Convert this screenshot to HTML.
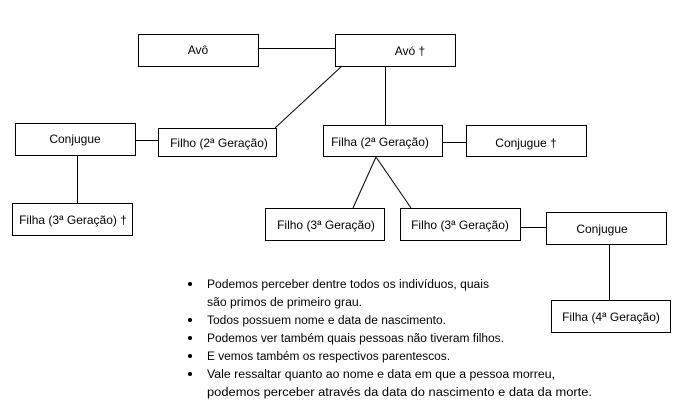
<!DOCTYPE html>
<html><head><meta charset="utf-8"><style>
html,body{margin:0;padding:0;background:#fff}
svg{display:block}
text{font-family:"Liberation Sans",sans-serif;font-size:12px;fill:#000}
.b{font-size:11.5px}
</style></head><body>
<svg width="678" height="418" viewBox="0 0 678 418">
<g fill="#fff" stroke="#000" stroke-width="1">
<rect x="138.5" y="34.5" width="120" height="32"/>
<rect x="335.5" y="34.5" width="120" height="32"/>
<rect x="15.5" y="123.5" width="120" height="32"/>
<rect x="158.5" y="128.5" width="118" height="28"/>
<rect x="323.5" y="125.5" width="119" height="31"/>
<rect x="466.5" y="125.5" width="120" height="31"/>
<rect x="12.5" y="203.5" width="120" height="32"/>
<rect x="265.5" y="208.5" width="119" height="32"/>
<rect x="400.5" y="208.5" width="120" height="32"/>
<rect x="546.5" y="212.5" width="120" height="32"/>
<rect x="551.5" y="300.5" width="119" height="32"/>
</g>
<g stroke="#000" stroke-width="1" fill="none">
<line x1="258" y1="48.5" x2="335" y2="48.5"/>
<line x1="342" y1="66" x2="275" y2="128"/>
<line x1="385.5" y1="66" x2="385.5" y2="125"/>
<line x1="135" y1="140.5" x2="158" y2="140.5"/>
<line x1="442" y1="142.5" x2="466" y2="142.5"/>
<line x1="77.5" y1="155" x2="77.5" y2="203"/>
<line x1="376" y1="157" x2="353" y2="208"/>
<line x1="376" y1="157" x2="411" y2="208"/>
<line x1="520" y1="227.5" x2="546" y2="227.5"/>
<line x1="609.5" y1="244" x2="609.5" y2="300"/>
</g>
<g text-anchor="middle">
<text x="198" y="54">Avô</text>
<text x="410" y="55">Avó †</text>
<text x="75" y="143">Conjugue</text>
<text x="219" y="147">Filho (2ª Geração)</text>
<text x="380" y="146">Filha (2ª Geração)</text>
<text x="526" y="147">Conjugue †</text>
<text x="73" y="224">Filha (3ª Geração) †</text>
<text x="326" y="229">Filho (3ª Geração)</text>
<text x="460" y="229">Filho (3ª Geração)</text>
<text x="602" y="233">Conjugue</text>
<text x="611" y="321">Filha (4ª Geração)</text>
</g>
<g fill="#000">
<circle cx="190" cy="284" r="2"/>
<circle cx="190" cy="320" r="2"/>
<circle cx="190" cy="338" r="2"/>
<circle cx="190" cy="356" r="2"/>
<circle cx="190" cy="374" r="2"/>
</g>
<text class="b" x="207" y="288" textLength="282" lengthAdjust="spacingAndGlyphs">Podemos perceber dentre todos os indivíduos, quais</text>
<text class="b" x="207" y="306" textLength="155" lengthAdjust="spacingAndGlyphs">são primos de primeiro grau.</text>
<text class="b" x="207" y="324" textLength="239" lengthAdjust="spacingAndGlyphs">Todos possuem nome e data de nascimento.</text>
<text class="b" x="207" y="342" textLength="297" lengthAdjust="spacingAndGlyphs">Podemos ver também quais pessoas não tiveram filhos.</text>
<text class="b" x="207" y="360" textLength="243" lengthAdjust="spacingAndGlyphs">E vemos também os respectivos parentescos.</text>
<text class="b" x="207" y="378" textLength="348" lengthAdjust="spacingAndGlyphs">Vale ressaltar quanto ao nome e data em que a pessoa morreu,</text>
<text class="b" x="207" y="396" textLength="385" lengthAdjust="spacingAndGlyphs">podemos perceber através da data do nascimento e data da morte.</text>
</svg>
</body></html>
